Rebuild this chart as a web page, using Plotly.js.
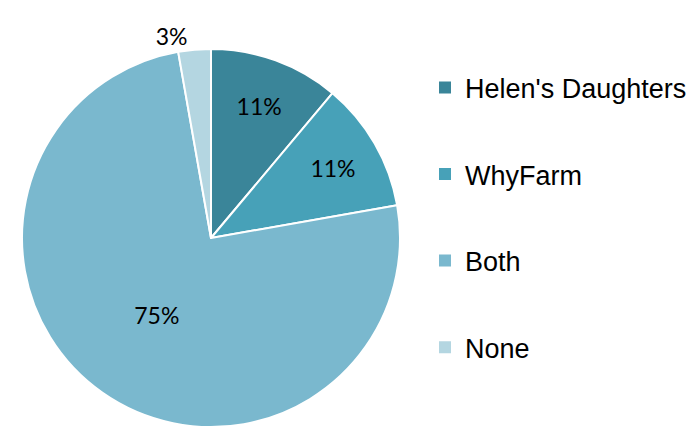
<!DOCTYPE html>
<html>
<head>
<meta charset="utf-8">
<script src="https://cdn.plot.ly/plotly-3.0.1.min.js"></script>
<style>html,body{margin:0;padding:0;background:#fff;}#chart{width:700px;height:427px;}</style>
</head>
<body>
<div id="chart"></div>
<script>
var categories = ["Helen's Daughters", "WhyFarm", "Both", "None"];
var counts = [4, 4, 27, 1];
var colors = ["#3A8599", "#47A1B8", "#7AB8CE", "#B4D6E1"];
var textPositions = ["inside", "inside", "inside", "outside"];

var pieTrace = {
  type: "pie",
  labels: categories,
  values: counts,
  sort: false,
  direction: "clockwise",
  rotation: 0,
  marker: {colors: colors, line: {color: "#ffffff", width: 2}},
  texttemplate: "%{percent:.0%}",
  textposition: textPositions,
  insidetextorientation: "horizontal",
  textfont: {family: "Lato, 'Open Sans', sans-serif", size: 23, color: "#000000"},
  outsidetextfont: {family: "Lato, 'Open Sans', sans-serif", size: 23, color: "#000000"},
  showlegend: false,
  hoverinfo: "label+percent",
  domain: {x: [0, 378 / 678], y: [0, 1]}
};

var legendTraces = categories.map(function (c, i) {
  return {
    type: "scatter",
    mode: "markers",
    x: [null], y: [null],
    name: c,
    legendgroup: c,
    marker: {symbol: "square", size: 12, color: colors[i]},
    showlegend: true,
    hoverinfo: "skip"
  };
});

var layout = {
  width: 700,
  height: 427,
  margin: {l: 22, r: 0, t: 49, b: 0},
  paper_bgcolor: "#ffffff",
  plot_bgcolor: "#ffffff",
  xaxis: {visible: false},
  yaxis: {visible: false},
  showlegend: true,
  legend: {
    x: (425 - 22) / 678,
    xanchor: "left",
    y: 0.962,
    yanchor: "top",
    font: {family: "'Liberation Sans', Arial, sans-serif", size: 27, color: "#000000"},
    tracegroupgap: 48.5,
    itemwidth: 30,
    bgcolor: "rgba(0,0,0,0)"
  }
};

Plotly.newPlot("chart", [pieTrace].concat(legendTraces), layout, {displayModeBar: false, staticPlot: true});
</script>
</body>
</html>
